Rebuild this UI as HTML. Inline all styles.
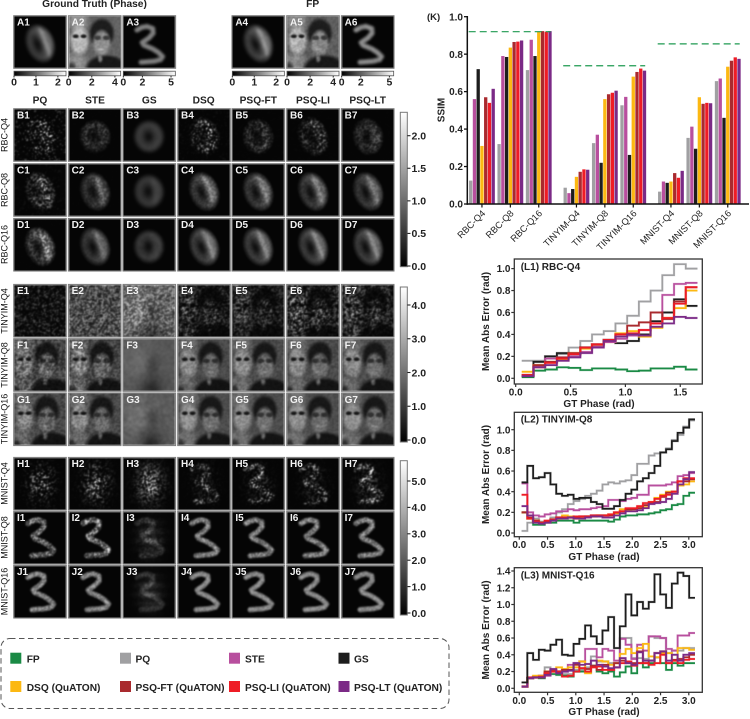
<!DOCTYPE html>
<html lang="en">
<head>
<meta charset="utf-8">
<title>Phase reconstruction comparison</title>
<style>
html,body{margin:0;padding:0;background:#fff;}
#page{position:relative;width:750px;height:719px;overflow:hidden;background:#fff;font-family:"Liberation Sans",sans-serif;}
canvas{position:absolute;display:block;filter:blur(0.45px);}
#overlay{position:absolute;left:0;top:0;}
text{font-family:"Liberation Sans",sans-serif;}
.b{font-weight:bold;}
</style>
</head>
<body>
<div id="page">
<div id="panels"></div>
<svg id="overlay" width="750" height="719" viewBox="0 0 750 719">
  <defs>
    <linearGradient id="hgrad" x1="0" x2="1" y1="0" y2="0"><stop offset="0" stop-color="#000"/><stop offset="1" stop-color="#fff"/></linearGradient>
    <linearGradient id="vgrad" x1="0" x2="0" y1="1" y2="0"><stop offset="0" stop-color="#000"/><stop offset="1" stop-color="#fff"/></linearGradient>
  </defs>
  <g fill="#222" class="b" font-size="10.2" font-weight="bold" text-anchor="middle">
    <text x="94.5" y="7">Ground Truth (Phase)</text>
    <text x="312.7" y="7">FP</text>
    <text x="40" y="103.5">PQ</text>
    <text x="95" y="103.5">STE</text>
    <text x="149.3" y="103.5">GS</text>
    <text x="203.7" y="103.5">DSQ</text>
    <text x="258.3" y="103.5">PSQ-FT</text>
    <text x="313" y="103.5">PSQ-LI</text>
    <text x="367.7" y="103.5">PSQ-LT</text>
  </g>
  <g fill="#111" font-size="9" text-anchor="middle">
    <text transform="translate(7.3 135) rotate(-90)">RBC-Q4</text>
    <text transform="translate(7.3 190) rotate(-90)">RBC-Q8</text>
    <text transform="translate(7.3 244.5) rotate(-90)">RBC-Q16</text>
    <text transform="translate(7.3 311) rotate(-90)">TINYIM-Q4</text>
    <text transform="translate(7.3 365) rotate(-90)">TINYIM-Q8</text>
    <text transform="translate(7.3 419) rotate(-90)">TINYIM-Q16</text>
    <text transform="translate(7.3 483.5) rotate(-90)">MNIST-Q4</text>
    <text transform="translate(7.3 537.5) rotate(-90)">MNIST-Q8</text>
    <text transform="translate(7.3 591.5) rotate(-90)">MNIST-Q16</text>
  </g>
  <g id="colorbars"></g>
  <g id="panel-frames"></g>
  <g id="ssim-chart"></g>
  <g id="l1-chart"></g>
  <g id="l2-chart"></g>
  <g id="l3-chart"></g>
  <g>
    <rect x="1" y="638.5" width="448" height="70" rx="9" fill="none" stroke="#555" stroke-width="1" stroke-dasharray="5.5 3.5"/>
    <g font-size="10.2" font-weight="bold" fill="#222">
      <g><rect x="10.3" y="652.7" width="11" height="11" fill="#1a8a45"/><text x="26.7" y="662.3">FP</text></g>
      <g><rect x="120" y="652.7" width="11" height="11" fill="#a0a0a2"/><text x="135.5" y="662.3">PQ</text></g>
      <g><rect x="229" y="652.7" width="11" height="11" fill="#b84f9e"/><text x="245" y="662.3">STE</text></g>
      <g><rect x="338.5" y="652.7" width="11" height="11" fill="#1d1d1d"/><text x="354" y="662.3">GS</text></g>
      <g><rect x="10.3" y="681" width="11" height="11" fill="#fcb812"/><text x="26.7" y="690.8">DSQ (QuATON)</text></g>
      <g><rect x="120" y="681" width="11" height="11" fill="#a92a2e"/><text x="135.5" y="690.8">PSQ-FT (QuATON)</text></g>
      <g><rect x="229" y="681" width="11" height="11" fill="#ee1c25"/><text x="245" y="690.8">PSQ-LI (QuATON)</text></g>
      <g><rect x="338.5" y="681" width="11" height="11" fill="#7b2a86"/><text x="354" y="690.8">PSQ-LT (QuATON)</text></g>
    </g>
  </g>
</svg>
</div>

<script>
/* ---------- SSIM bar chart data ---------- */
const ssimCategories = ['RBC-Q4','RBC-Q8','RBC-Q16','TINYIM-Q4','TINYIM-Q8','TINYIM-Q16','MNIST-Q4','MNIST-Q8','MNIST-Q16'];
const ssimPq  = [0.125,0.32,0.715,0.087,0.325,0.527,0.066,0.353,0.656];
const ssimSte = [0.56,0.79,0.877,0.058,0.37,0.572,0.12,0.413,0.67];
const ssimGs  = [0.72,0.785,0.79,0.08,0.22,0.262,0.113,0.295,0.46];
const ssimDsq = [0.31,0.835,0.92,0.145,0.56,0.68,0.12,0.57,0.733];
const ssimFt  = [0.57,0.865,0.923,0.172,0.586,0.705,0.165,0.535,0.765];
const ssimLi  = [0.54,0.867,0.92,0.185,0.594,0.723,0.14,0.54,0.783];
const ssimLt  = [0.615,0.873,0.923,0.183,0.605,0.712,0.177,0.538,0.775];
const ssimFpReference = [0.92,0.738,0.855];
const ssimTicks = ['0.0','0.2','0.4','0.6','0.8','1.0'];

/* ---------- L1 RBC-Q4 ---------- */
const l1Fp  = [0.01,0.07,0.08,0.1,0.095,0.075,0.09,0.09,0.08,0.065,0.07,0.09,0.09,0.105,0.08];
const l1Pq  = [0.16,0.16,0.2,0.22,0.28,0.34,0.4,0.43,0.5,0.57,0.7,0.8,0.94,1.04,1.0];
const l1Ste = [0.03,0.11,0.18,0.19,0.2,0.24,0.29,0.33,0.36,0.39,0.44,0.5,0.76,0.86,0.87];
const l1Gs  = [0.02,0.15,0.2,0.23,0.22,0.28,0.31,0.35,0.32,0.34,0.4,0.52,0.6,0.72,0.66];
const l1Dsq = [0.06,0.12,0.15,0.17,0.23,0.27,0.3,0.33,0.41,0.43,0.38,0.46,0.55,0.64,0.8];
const l1Ft  = [0.03,0.12,0.15,0.19,0.23,0.28,0.31,0.35,0.4,0.48,0.51,0.6,0.54,0.7,0.83];
const l1Li  = [0.03,0.1,0.14,0.18,0.22,0.28,0.31,0.35,0.4,0.41,0.44,0.5,0.55,0.68,0.83];
const l1Lt  = [0.02,0.1,0.12,0.16,0.19,0.23,0.28,0.34,0.38,0.4,0.39,0.47,0.5,0.56,0.55];
const l1XTicks = ['0.0','0.5','1.0','1.5'];
const l1YTicks = ['0.0','0.2','0.4','0.6','0.8','1.0'];

/* ---------- L2 TINYIM-Q8 ---------- */
const l2Fp  = [0.2,0.14,0.08,0.08,0.1,0.1,0.12,0.12,0.12,0.1,0.12,0.12,0.12,0.12,0.12,0.11,0.13,0.16,0.17,0.17,0.18,0.18,0.19,0.2,0.22,0.23,0.27,0.28,0.36,0.39];
const l2Pq  = [0.02,0.1,0.14,0.11,0.1,0.15,0.2,0.23,0.28,0.31,0.33,0.36,0.38,0.41,0.47,0.49,0.48,0.5,0.51,0.56,0.67,0.67,0.75,0.77,0.78,0.82,0.9,0.95,1.03,1.09];
const l2Ste = [0.48,0.2,0.17,0.16,0.18,0.19,0.21,0.21,0.23,0.22,0.23,0.23,0.24,0.25,0.26,0.32,0.32,0.31,0.33,0.34,0.37,0.37,0.46,0.46,0.46,0.47,0.49,0.55,0.56,0.58];
const l2Gs  = [0.49,0.65,0.53,0.54,0.58,0.47,0.38,0.36,0.37,0.33,0.34,0.34,0.3,0.28,0.235,0.235,0.26,0.32,0.38,0.42,0.5,0.53,0.58,0.65,0.78,0.81,0.89,0.97,1.02,1.1];
const l2Dsq = [0.2,0.14,0.12,0.1,0.11,0.13,0.14,0.17,0.16,0.14,0.15,0.16,0.16,0.17,0.17,0.18,0.19,0.23,0.22,0.23,0.25,0.25,0.3,0.34,0.37,0.4,0.4,0.46,0.47,0.5];
const l2Ft  = [0.2,0.15,0.12,0.1,0.11,0.13,0.15,0.15,0.15,0.15,0.16,0.16,0.17,0.17,0.17,0.17,0.2,0.21,0.23,0.23,0.24,0.27,0.29,0.3,0.35,0.39,0.4,0.5,0.5,0.52];
const l2Li  = [0.37,0.14,0.11,0.1,0.12,0.13,0.15,0.15,0.15,0.16,0.16,0.16,0.17,0.17,0.17,0.18,0.2,0.21,0.24,0.24,0.26,0.29,0.3,0.33,0.36,0.37,0.4,0.5,0.53,0.53];
const l2Lt  = [0.26,0.17,0.1,0.09,0.1,0.12,0.14,0.14,0.15,0.14,0.14,0.15,0.16,0.16,0.15,0.15,0.17,0.19,0.21,0.21,0.22,0.24,0.28,0.29,0.3,0.33,0.38,0.47,0.52,0.59];
const l2XTicks = ['0.0','0.5','1.0','1.5','2.0','2.5','3.0'];
const l2YTicks = ['0.0','0.2','0.4','0.6','0.8','1.0'];

/* ---------- L3 MNIST-Q16 ---------- */
const l3Fp  = [0.02,0.12,0.13,0.12,0.17,0.17,0.16,0.15,0.14,0.2,0.2,0.19,0.27,0.2,0.18,0.2,0.14,0.19,0.26,0.18,0.3,0.25,0.3,0.37,0.3,0.22,0.3,0.27,0.3,0.3];
const l3Pq  = [0.02,0.12,0.14,0.15,0.25,0.22,0.2,0.17,0.17,0.22,0.22,0.25,0.38,0.32,0.32,0.3,0.3,0.6,0.6,0.36,0.36,0.35,0.62,0.6,0.6,0.42,0.45,0.45,0.48,0.48];
const l3Ste = [0.02,0.12,0.14,0.15,0.15,0.2,0.2,0.2,0.28,0.3,0.32,0.47,0.47,0.37,0.47,0.45,0.33,0.59,0.52,0.35,0.52,0.45,0.62,0.62,0.6,0.47,0.45,0.63,0.63,0.66];
const l3Gs  = [0.07,0.42,0.34,0.46,0.45,0.52,0.58,0.4,0.39,0.53,0.59,0.75,0.62,0.53,0.69,0.85,0.48,0.74,1.12,0.87,1.03,0.95,1.03,1.36,1.12,0.96,1.25,1.38,1.34,1.08];
const l3Dsq = [0.02,0.12,0.15,0.15,0.2,0.2,0.25,0.23,0.25,0.25,0.32,0.18,0.26,0.33,0.32,0.28,0.3,0.41,0.47,0.42,0.48,0.53,0.38,0.37,0.42,0.42,0.33,0.48,0.48,0.46];
const l3Ft  = [0.02,0.12,0.13,0.13,0.2,0.22,0.2,0.22,0.22,0.28,0.24,0.23,0.27,0.22,0.28,0.22,0.3,0.33,0.3,0.3,0.44,0.3,0.33,0.42,0.44,0.3,0.34,0.35,0.37,0.4];
const l3Li  = [0.02,0.13,0.13,0.14,0.18,0.2,0.2,0.14,0.15,0.2,0.24,0.2,0.25,0.26,0.22,0.22,0.25,0.3,0.32,0.27,0.3,0.3,0.28,0.3,0.4,0.3,0.33,0.3,0.34,0.35];
const l3Lt  = [0.02,0.12,0.13,0.13,0.16,0.23,0.18,0.2,0.21,0.3,0.28,0.29,0.33,0.28,0.26,0.24,0.25,0.36,0.3,0.28,0.43,0.33,0.33,0.42,0.44,0.33,0.4,0.33,0.4,0.42];
const l3XTicks = ['0.0','0.5','1.0','1.5','2.0','2.5','3.0'];
const l3YTicks = ['0.0','0.2','0.4','0.6','0.8','1.0','1.2','1.4'];

const COLORS = {fp:'#1a8a45',pq:'#a0a0a2',ste:'#b84f9e',gs:'#1d1d1d',dsq:'#fcb812',ft:'#a92a2e',li:'#ee1c25',lt:'#7b2a86'};
const NS = 'http://www.w3.org/2000/svg';

function svgNode(tag, parent){
  const n = document.createElementNS(NS, tag);
  parent.appendChild(n);
  return n;
}
function set(n, props){ for(const k in props){ n.setAttribute(k, props[k]); } return n; }
function linear(d0,d1,r0,r1){ return v => r0 + (v-d0)*(r1-r0)/(d1-d0); }

/* ---------- SSIM chart ---------- */
(function(){
  const g = document.getElementById('ssim-chart');
  const y = linear(0,1,204,16.7);
  const slot = (cat,s) => 470.7 + cat*28.4 + Math.floor(cat/3)*9.3 + s*3.75;
  const seriesList = [[ssimPq,COLORS.pq],[ssimSte,COLORS.ste],[ssimGs,COLORS.gs],[ssimDsq,COLORS.dsq],[ssimFt,COLORS.ft],[ssimLi,COLORS.li],[ssimLt,COLORS.lt]];
  seriesList.forEach((entry,s)=>{
    entry[0].forEach((val,cat)=>{
      const r = svgNode('rect', g);
      
      
      set(r,{x:slot(cat,s)-1.65,y:y(val),width:3.3,height:Math.max(0,204-y(val)),fill:entry[1]});
    });
  });
  ssimFpReference.forEach((val,c)=>{
    const l = svgNode('line', g);
    
    
    const x0 = slot(c*3,0)-2;
    set(l,{x1:x0,x2:x0+82,y1:y(val),y2:y(val),stroke:'#1f9a50','stroke-width':1.2,'stroke-dasharray':'7 4'});
  });
  const yAxis = svgNode('line', g);
  
  
  set(yAxis,{x1:467.3,x2:467.3,y1:16,y2:204.7,stroke:'#111','stroke-width':1.5});
  const xAxis = svgNode('line', g);
  
  
  set(xAxis,{x1:466.5,x2:749,y1:204,y2:204,stroke:'#111','stroke-width':1.5});
  ssimTicks.forEach(t=>{
    const v = parseFloat(t);
    const tk = svgNode('line', g);
    
    
    set(tk,{x1:464,x2:467.3,y1:y(v),y2:y(v),stroke:'#111','stroke-width':1.3});
    const lb = svgNode('text', g);
    
    
    set(lb,{x:463,y:y(v)+3.6,'text-anchor':'end','font-size':10,'font-weight':'bold',fill:'#222'});
    lb.textContent = t;
  });
  ssimCategories.forEach((name,cat)=>{
    const cx = slot(cat,3);
    const tk = svgNode('line', g);
    
    
    set(tk,{x1:cx,x2:cx,y1:204,y2:207.5,stroke:'#111','stroke-width':1.2});
    const lb = svgNode('text', g);
    
    
    set(lb,{transform:'translate('+(cx+4)+' 214) rotate(-45)','text-anchor':'end','font-size':9.3,fill:'#222'});
    lb.textContent = name;
  });
  const k = svgNode('text', g);
  
  
  set(k,{x:427,y:20,'font-size':9.5,'font-weight':'bold',fill:'#222'});
  k.textContent = '(K)';
  const ya = svgNode('text', g);
  
  
  set(ya,{transform:'translate(444.7 110) rotate(-90)','text-anchor':'middle','font-size':10,'font-weight':'bold',fill:'#222'});
  ya.textContent = 'SSIM';
})();

/* ---------- Step line charts ---------- */
function drawStepChart(cfg){
  const g = document.getElementById(cfg.id);
  const x = linear(0,1,cfg.x0,cfg.x0+cfg.xScale);
  const y = linear(0,1,cfg.y0,cfg.y0-cfg.yScale);
  cfg.series.forEach(entry=>{
    const vals = entry[0];
    let d = '';
    vals.forEach((v,i)=>{
      const xa = x(cfg.binStart+i*cfg.binWidth), xb = x(cfg.binStart+(i+1)*cfg.binWidth);
      d += (i===0 ? 'M'+xa+' '+y(v) : 'V'+y(v)) + 'H'+xb;
    });
    const halo = svgNode('path', g);
    
    
    set(halo,{d:d,fill:'none',stroke:entry[1],'stroke-width':2.6,opacity:0.22});
    const p = svgNode('path', g);
    
    
    set(p,{d:d,fill:'none',stroke:entry[1],'stroke-width':1.7});
  });
  const frame = svgNode('rect', g);
  
  
  set(frame,{x:514.3,y:cfg.top,width:188,height:cfg.bottom-cfg.top,fill:'none',stroke:'#333','stroke-width':1.3});
  cfg.xTicks.forEach(t=>{
    const v = parseFloat(t);
    const tk = svgNode('line', g);
    
    
    set(tk,{x1:x(v),x2:x(v),y1:cfg.bottom,y2:cfg.bottom+3,stroke:'#333','stroke-width':1.2});
    const lb = svgNode('text', g);
    
    
    set(lb,{x:x(v),y:cfg.bottom+11.5,'text-anchor':'middle','font-size':10,'font-weight':'bold',fill:'#222'});
    lb.textContent = t;
  });
  cfg.yTicks.forEach(t=>{
    const v = parseFloat(t);
    const tk = svgNode('line', g);
    
    
    set(tk,{x1:511.3,x2:514.3,y1:y(v),y2:y(v),stroke:'#333','stroke-width':1.2});
    const lb = svgNode('text', g);
    
    
    set(lb,{x:510.5,y:y(v)+3.6,'text-anchor':'end','font-size':10,'font-weight':'bold',fill:'#222'});
    lb.textContent = t;
  });
  const title = svgNode('text', g);
  
  
  set(title,{x:520.7,y:cfg.titleY,'font-size':10,'font-weight':'bold',fill:'#222'});
  title.textContent = cfg.title;
  const xt = svgNode('text', g);
  
  
  set(xt,{x:cfg.xTitleX,y:cfg.xTitleY,'text-anchor':'middle','font-size':10,'font-weight':'bold',fill:'#222'});
  xt.textContent = 'GT Phase (rad)';
  const yt = svgNode('text', g);
  
  
  set(yt,{transform:'translate(489 '+((cfg.top+cfg.bottom)/2)+') rotate(-90)','text-anchor':'middle','font-size':10,'font-weight':'bold',fill:'#222'});
  yt.textContent = 'Mean Abs Error (rad)';
}
drawStepChart({id:'l1-chart',title:'(L1) RBC-Q4',x0:515.7,xScale:109.7,y0:378.3,yScale:109.7,top:259,bottom:384,binStart:0.055,binWidth:0.1068,titleY:270,xTitleX:599,xTitleY:407,xTicks:l1XTicks,yTicks:l1YTicks,
  series:[[l1Pq,COLORS.pq],[l1Fp,COLORS.fp],[l1Gs,COLORS.gs],[l1Dsq,COLORS.dsq],[l1Ste,COLORS.ste],[l1Ft,COLORS.ft],[l1Li,COLORS.li],[l1Lt,COLORS.lt]]});
drawStepChart({id:'l2-chart',title:'(L2) TINYIM-Q8',x0:519.3,xScale:56.5,y0:533,yScale:103.3,top:412.3,bottom:536.7,binStart:0.04,binWidth:0.1023,titleY:422.5,xTitleX:604,xTitleY:560,xTicks:l2XTicks,yTicks:l2YTicks,
  series:[[l2Pq,COLORS.pq],[l2Fp,COLORS.fp],[l2Dsq,COLORS.dsq],[l2Ste,COLORS.ste],[l2Ft,COLORS.ft],[l2Li,COLORS.li],[l2Lt,COLORS.lt],[l2Gs,COLORS.gs]]});
drawStepChart({id:'l3-chart',title:'(L3) MNIST-Q16',x0:519.3,xScale:56.5,y0:688.3,yScale:83.8,top:567.7,bottom:692.3,binStart:0.04,binWidth:0.1023,titleY:578.5,xTitleX:604,xTitleY:715,xTicks:l3XTicks,yTicks:l3YTicks,
  series:[[l3Pq,COLORS.pq],[l3Fp,COLORS.fp],[l3Ste,COLORS.ste],[l3Dsq,COLORS.dsq],[l3Ft,COLORS.ft],[l3Li,COLORS.li],[l3Lt,COLORS.lt],[l3Gs,COLORS.gs]]});

/* ---------- Colorbars ---------- */
const smallBarTicks = [['0','1','2'],['0','2','4'],['0','2','5'],['0','1','2'],['0','2','4'],['0','2','5']];
const smallBarMax = [2.37,4.5,5.45,2.37,4.5,5.45];
const vBarLabelsRbc = ['0.0','0.5','1.0','1.5','2.0'];
const vBarLabelsTiny = ['0.0','1.0','2.0','3.0','4.0'];
const vBarLabelsMnist = ['0.0','1.0','2.0','3.0','4.0','5.0'];
(function(){
  const g = document.getElementById('colorbars');
  const xs = [14,68.67,123.33,232.33,287,341.67];
  smallBarTicks.forEach((labels,i)=>{
    const r = svgNode('rect', g);
    
    
    set(r,{x:xs[i],y:71.2,width:52,height:4.6,fill:'url(#hgrad)',stroke:'#555','stroke-width':0.8});
    const sc = linear(0,smallBarMax[i],xs[i],xs[i]+52);
    labels.forEach(t=>{
      const v = parseFloat(t);
      const tk = svgNode('line', g);
      
      
      set(tk,{x1:sc(v),x2:sc(v),y1:75.8,y2:77.5,stroke:'#222','stroke-width':1});
      const lb = svgNode('text', g);
      
      
      set(lb,{x:sc(v),y:85.5,'text-anchor':'middle','font-size':10.5,'font-weight':'bold',fill:'#222'});
      lb.textContent = t;
    });
  });
  function vbar(top,bottom,labels,y){
    const r = svgNode('rect', g);
    
    
    set(r,{x:400.3,y:top,width:7,height:bottom-top,fill:'url(#vgrad)',stroke:'#777','stroke-width':1});
    labels.forEach(t=>{
      const v = parseFloat(t);
      const tk = svgNode('line', g);
      
      
      set(tk,{x1:407.3,x2:410.5,y1:y(v),y2:y(v),stroke:'#222','stroke-width':1.1});
      const lb = svgNode('text', g);
      
      
      set(lb,{x:411.5,y:y(v)+3.8,'font-size':10.5,'font-weight':'bold',fill:'#222'});
      lb.textContent = t;
    });
  }
  vbar(112.3,266.7,vBarLabelsRbc,linear(0,2,266,135.7));
  vbar(287,442,vBarLabelsTiny,linear(0,4,440,305));
  vbar(460.7,615,vBarLabelsMnist,linear(0,5,613,481));
})();

/* ---------- Image panels: procedural stand-ins for the microscopy / photo reconstructions ---------- */
const columnX = [14,68.67,123.33,178,232.33,287,341.67];
/* label, column, scene, amplitude, noise mix, speckle power, background speckle, blur passes, roundness */
const imageRows = [
 {y:16,  panels:[['A1',0,'cell',.62,.06,1,0,1,0],['A2',1,'face',1.1,.1,1,0,0,0],['A3',2,'digit',.5,.04,1,0,1,0],['A4',4,'cell',.66,.1,1,0,1,0],['A5',5,'face',1.05,.15,1,0,0,0],['A6',6,'digit',.55,.08,1,0,1,0]]},
 {y:109, panels:[['B1',0,'cell',.2,1,5,.1,0,0],['B2',1,'cell',.34,.7,1.6,.004,0,.9],['B3',2,'cell',.48,.08,1,0,2,.9],['B4',3,'cell',.32,1,3.5,.02,0,.2],['B5',4,'cell',.3,.8,2,.006,0,.6],['B6',5,'cell',.3,.9,2.5,.006,0,0],['B7',6,'cell',.32,.7,1.6,.004,0,.4]]},
 {y:164, panels:[['C1',0,'cell',.42,1,2,.02,0,0],['C2',1,'cell',.48,.35,1.3,.003,0,.15],['C3',2,'cell',.46,.05,1,0,2,.7],['C4',3,'cell',.6,.3,1.2,0,0,0],['C5',4,'cell',.58,.25,1.2,0,0,0],['C6',5,'cell',.58,.22,1.2,0,0,0],['C7',6,'cell',.56,.2,1.2,0,0,0]]},
 {y:218.7, panels:[['D1',0,'cell',.56,.55,1.6,.004,0,0],['D2',1,'cell',.54,.15,1.2,0,0,.05],['D3',2,'cell',.46,.12,1.2,0,1,.8],['D4',3,'cell',.62,.12,1,0,0,0],['D5',4,'cell',.62,.12,1,0,0,0],['D6',5,'cell',.62,.1,1,0,0,0],['D7',6,'cell',.62,.1,1,0,0,0]]},
 {y:284.7, panels:[['E1',0,'flat',.07,1,3,.008,0,0],['E2',1,'flat',.3,.7,1.4,0,0,0],['E3',2,'gs',.5,.5,1.4,0,0,0],['E4',3,'faceLow',.34,1,2,.008,0,0],['E5',4,'faceLow',.38,1,1.6,.008,0,0],['E6',5,'faceLow',.48,1,2,.008,0,0],['E7',6,'faceLow',.44,1,1.8,.008,0,0]]},
 {y:339, panels:[['F1',0,'face',.72,.5,1.2,0,0,0],['F2',1,'face',.76,.4,1.2,0,0,0],['F3',2,'gs',.42,.14,1,0,1,0],['F4',3,'face',.8,.22,1,0,0,0],['F5',4,'face',.82,.22,1,0,0,0],['F6',5,'face',.82,.22,1,0,0,0],['F7',6,'face',.82,.22,1,0,0,0]]},
 {y:393.3, panels:[['G1',0,'face',.78,.32,1,0,0,0],['G2',1,'face',.8,.28,1,0,0,0],['G3',2,'gs',.44,.18,1,0,1,0],['G4',3,'face',.84,.16,1,0,0,0],['G5',4,'face',.84,.16,1,0,0,0],['G6',5,'face',.84,.16,1,0,0,0],['G7',6,'face',.84,.16,1,0,0,0]]},
 {y:457.7, panels:[['H1',0,'blob',.14,1,5,.005,0,0],['H2',1,'blob',.24,1,3.5,.003,0,0],['H3',2,'blob',.33,1,2.2,.003,0,0],['H4',3,'smear',.22,1,3,.003,0,0],['H5',4,'smear',.27,1,3,.003,0,0],['H6',5,'smear',.24,1,3,.003,0,0],['H7',6,'smear',.33,1,2.4,.003,0,0]]},
 {y:511.7, panels:[['I1',0,'digit',.42,.6,1.5,.002,0,0],['I2',1,'digit',.46,.65,1.5,.002,0,0],['I3',2,'stripe',.34,.5,1.3,0,0,0],['I4',3,'digit',.5,.35,1.2,0,0,0],['I5',4,'digit',.5,.35,1.2,0,0,0],['I6',5,'digit',.5,.35,1.2,0,0,0],['I7',6,'digit',.5,.35,1.2,0,0,0]]},
 {y:565.7, panels:[['J1',0,'digit',.52,.28,1.2,0,0,0],['J2',1,'digit',.52,.24,1.2,0,0,0],['J3',2,'stripe',.34,.3,1.2,0,0,0],['J4',3,'digit',.54,.15,1,0,0,0],['J5',4,'digit',.54,.15,1,0,0,0],['J6',5,'digit',.54,.15,1,0,0,0],['J7',6,'digit',.54,.15,1,0,0,0]]}
];

function clamp01(a){ return a<0?0:(a>1?1:a); }
function seedOf(s){ let h=2166136261; for(let i=0;i<s.length;i++){ h^=s.charCodeAt(i); h=Math.imul(h,16777619); } return h>>>0; }
function prng(seed){ let a=seed; return function(){ a=(a+0x6D2B79F5)|0; let t=Math.imul(a^a>>>15,1|a); t=t+Math.imul(t^t>>>7,61|t)^t; return ((t^t>>>14)>>>0)/4294967296; }; }

function cellScene(u,v,round){
  const dx=u-.5, dy=v-.53, a=.36*(1-round), ca=Math.cos(a), sa=Math.sin(a);
  const lx=dx*ca-dy*sa, ly=dx*sa+dy*ca;
  const rx=.27+(.29-.27)*round, ry=.37+(.3-.37)*round;
  const r=Math.hypot(lx/rx,ly/ry);
  const body=Math.pow(clamp01((1.08-r)/.32),.9);
  const hx=-.05*(1-round);
  const hole=1-.85*Math.exp(-(Math.pow((lx-hx)/(.09+.03*round),2)+Math.pow(ly/(.19-.06*round),2)));
  const side=.78+.3*(lx/rx)*(1-round);
  const streak=Math.exp(-Math.pow((lx-.105)/.05,2))*clamp01((1.0-r)/.3);
  return Math.min(1,body*hole*side*.62+streak*.32*(1-round));
}
const faceLayers = [
 /* cx, cy, rx, ry, level, softness */
 [.18,.1,.25,.25,.5,.5],
 [.2,.47,.2,.33,.66,.35],
 [.12,.9,.32,.22,.5,.5],
 [.63,.33,.26,.31,.09,.25],
 [.63,.52,.19,.28,.5,.3],
 [.13,.39,.07,.045,.08,.4],
 [.28,.39,.07,.045,.08,.4],
 [.55,.42,.085,.055,.2,.4],
 [.72,.42,.085,.055,.2,.4],
 [.62,.64,.085,.03,.64,.6],
 [.72,1.02,.44,.29,.07,.22],
 [.6,.82,.055,.09,.46,.6],
 [.05,1,.1,.15,.2,.6]
];
function faceScene(u,v){
  let val=.34;
  for(const L of faceLayers){
    const r=Math.hypot((u-L[0])/L[2],(v-L[1])/L[3]);
    val+= (L[4]-val)*clamp01((1-r)/L[5]);
  }
  return val;
}
function gsScene(u,v){
  const spot=Math.exp(-(Math.pow((u-.56)/.12,2)+Math.pow((v-.5)/.2,2)));
  const low=Math.exp(-(Math.pow((u-.55)/.22,2)+Math.pow((v-.98)/.25,2)));
  const left=Math.exp(-(Math.pow((u-.3)/.28,2)+Math.pow((v-.45)/.35,2)));
  return clamp01(.78-.28*spot-.45*low+.2*left);
}
const digitPath=[[.27,.22],[.36,.17],[.46,.15],[.57,.19],[.58,.28],[.5,.37],[.37,.46],[.4,.51],[.57,.58],[.68,.65],[.76,.73],[.72,.79],[.6,.82],[.35,.84]];
function segDist(u,v,a,b){
  const vx=b[0]-a[0], vy=b[1]-a[1];
  const t=clamp01(((u-a[0])*vx+(v-a[1])*vy)/(vx*vx+vy*vy));
  return Math.hypot(u-a[0]-t*vx,v-a[1]-t*vy);
}
function digitDist(u,v){
  let d=9;
  for(let i=0;i<digitPath.length-1;i++){ d=Math.min(d,segDist(u,v,digitPath[i],digitPath[i+1])); }
  return d;
}
function digitScene(u,v){ return clamp01(1.1-Math.pow(digitDist(u,v)/.062,2)); }
function blobScene(u,v){ return Math.exp(-(Math.pow((u-.52)/.23,2)+Math.pow((v-.5)/.32,2))); }
function sceneValue(name,u,v,round){
  switch(name){
    case 'cell': return cellScene(u,v,round);
    case 'face': return faceScene(u,v);
    case 'faceLow': return Math.max(.05,faceScene(u,v)*.9-.05);
    case 'flat': return .95;
    case 'gs': return gsScene(u,v);
    case 'digit': return digitScene(u,v);
    case 'blob': return blobScene(u,v);
    case 'smear': return .3*blobScene(u,v)+.7*digitScene(u,v);
    case 'stripe': return blobScene(u,v)*.6*(.72+.28*Math.cos(v*34))+.4*digitScene(u,v);
  }
  return 0;
}
function renderPanel(p,y){
  const N=52, rng=prng(seedOf(p[0]+'x'));
  const [label,col,scene,amp,noiseMix,pow,bgSpeck,blur,round]=p;
  const vShift=(label[0]==='A'&&scene==='digit')?.05:0;
  let buf=new Float32Array(N*N);
  /* grain is slightly coarser than a pixel, matching the reference */
  const grain=new Float32Array(N*N);
  for(let i=0;i<N*N;i++){ grain[i]=rng(); }
  for(let j=0;j<N;j++){ for(let i=0;i<N;i++){
    const u=(i+.5)/N, v=(j+.5)/N;
    const ni=Math.min(N-1,i+1), nj=Math.min(N-1,j+1);
    const g0=(grain[j*N+i]*2+grain[j*N+ni]+grain[nj*N+i])/4;
    const sp=Math.pow(clamp01((g0-.2)/.6),pow)*(pow+1);
    const base=sceneValue(scene,u,v-vShift,round);
    let val=base*amp*((1-noiseMix)+noiseMix*sp);
    val+=bgSpeck*Math.pow(clamp01((g0-.3)/.5),8)*2.4;
    buf[j*N+i]=val;
  }}
  for(let pass=0;pass<blur;pass++){
    const out=new Float32Array(N*N);
    for(let j=0;j<N;j++){ for(let i=0;i<N;i++){
      let s=0,c=0;
      for(let dj=-1;dj<=1;dj++){ for(let di=-1;di<=1;di++){
        const a=i+di,b=j+dj;
        if(a>=0&&a<N&&b>=0&&b<N){ s+=buf[b*N+a]; c++; }
      }}
      out[j*N+i]=s/c;
    }}
    buf=out;
  }
  const cv=document.createElement('canvas');
  
  
  cv.width=N; cv.height=N;
  cv.style.left=columnX[col]+'px';
  cv.style.top=y+'px';
  cv.style.width='52px';
  cv.style.height='52px';
  const ctx=cv.getContext('2d');
  const img=ctx.createImageData(N,N);
  for(let i=0;i<N*N;i++){
    const g=Math.round(5+250*clamp01(buf[i]));
    img.data[i*4]=g; img.data[i*4+1]=g; img.data[i*4+2]=g; img.data[i*4+3]=255;
  }
  ctx.putImageData(img,0,0);
  document.getElementById('panels').appendChild(cv);

  const frames=document.getElementById('panel-frames');
  const fr=svgNode('rect',frames);
  
  
  set(fr,{x:columnX[col]-.3,y:y-.3,width:52.6,height:52.6,fill:'none',stroke:'#7d7d7d','stroke-width':1});
  const tx=svgNode('text',frames);
  
  
  set(tx,{x:columnX[col]+3,y:y+9.5,'font-size':10,'font-weight':'bold',fill:'#f2f2f2'});
  tx.textContent=label;
}
imageRows.forEach(row=>row.panels.forEach(p=>renderPanel(p,row.y)));
</script>
</body>
</html>
